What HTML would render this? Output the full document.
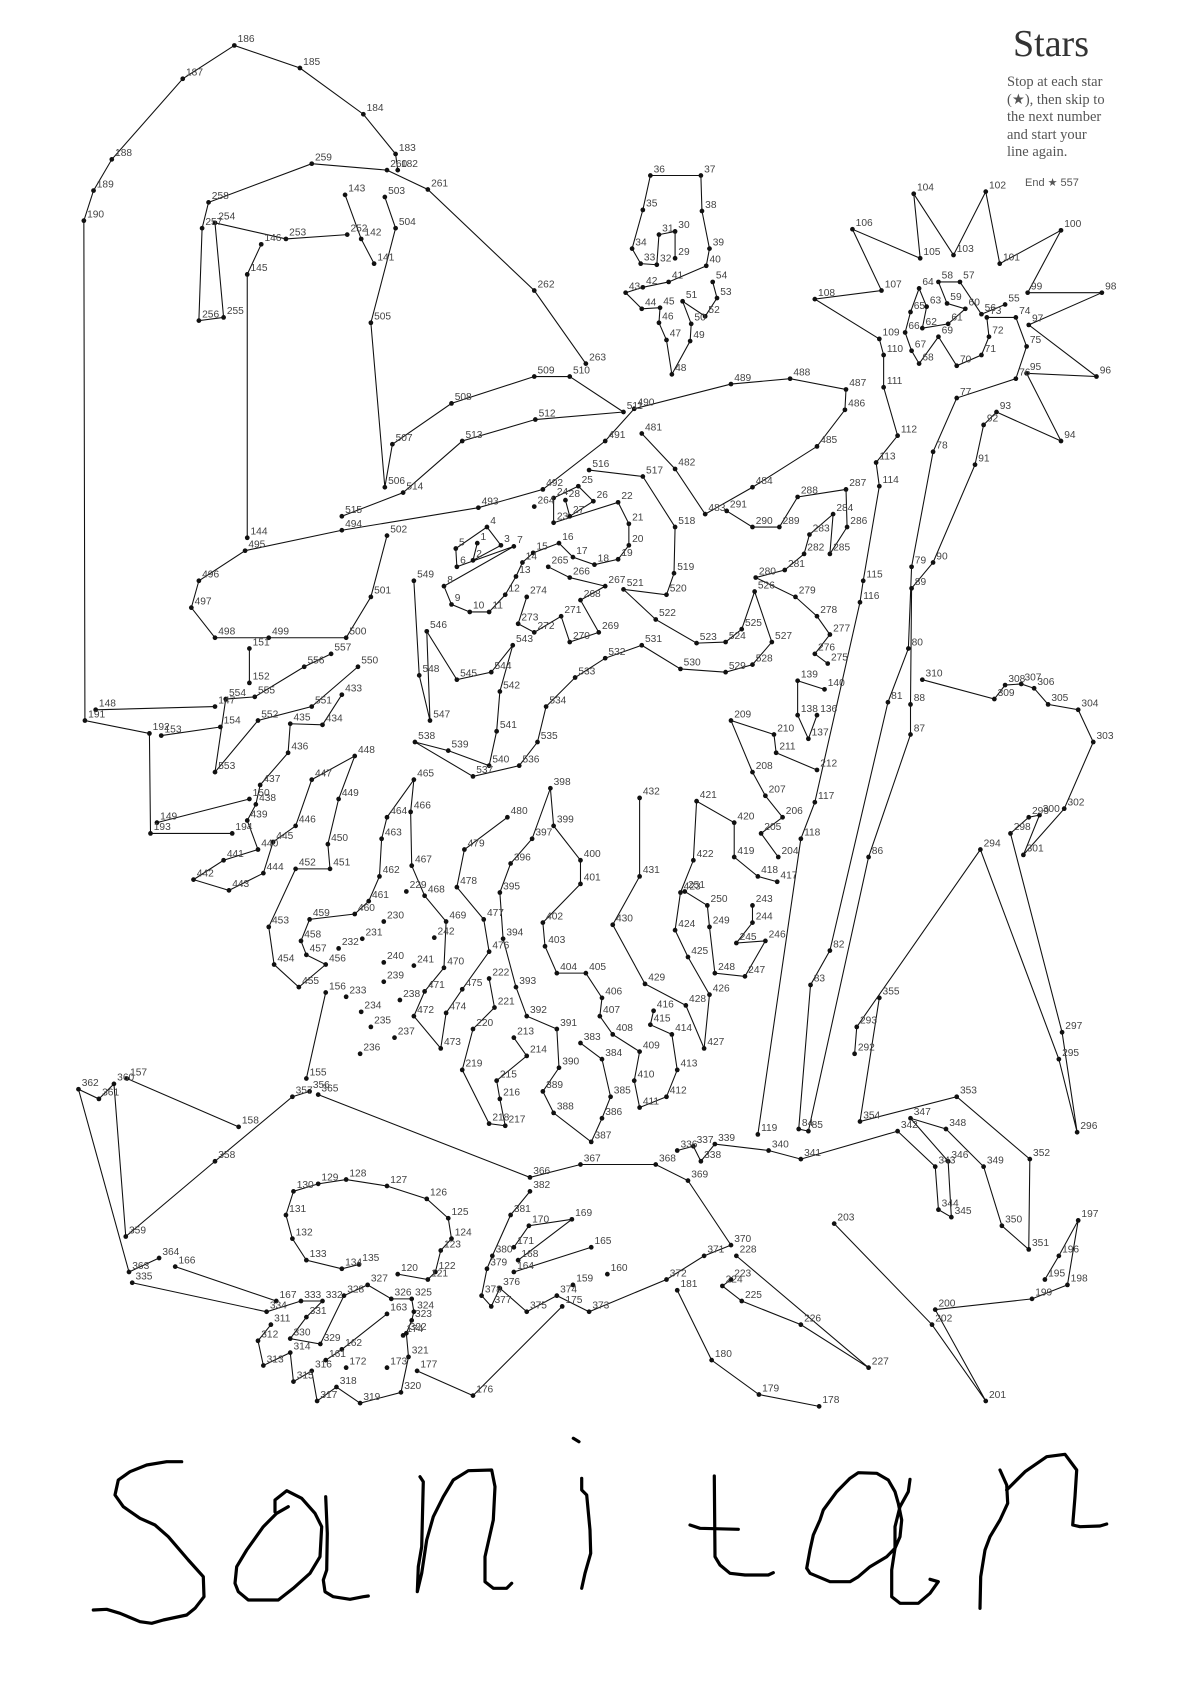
<!DOCTYPE html>
<html><head><meta charset="utf-8"><style>
html,body{margin:0;padding:0;background:#fff;width:1190px;height:1684px;overflow:hidden}
#d{position:absolute;left:0;top:0}
#h{position:absolute;left:0;top:0}
.t{font-family:"Liberation Serif",serif;position:absolute;color:#333}
text{font-family:"Liberation Sans",sans-serif;font-size:9.5px;fill:#444}
</style></head><body>
<svg id="d" width="1190" height="1684" viewBox="0 0 1107 1566"><g id="L" fill="none" stroke="#111" stroke-width="1"></g><g id="P" fill="#111"></g><g id="T"></g></svg>
<div class="t" style="left:1013px;top:22px;font-size:38px;">Stars</div>
<div class="t" style="left:1007px;top:74px;font-size:14.5px;line-height:17.5px;color:#555">Stop at each star<br>(★), then skip to<br>the next number<br>and start your<br>line again.</div>
<div style="position:absolute;left:1025px;top:176px;font-family:'Liberation Sans',sans-serif;font-size:11px;color:#555">End ★ 557</div>
<svg id="h" width="1190" height="1684" fill="none" stroke="#000" stroke-width="3.2" stroke-linejoin="round" stroke-linecap="round">
<polyline points="181.7,1461.7 166.7,1461.7 146.7,1465 130,1471.7 118.3,1480 115,1495 123.3,1506.7 140,1518.3 155,1525 168.3,1536.7 188.3,1560 203.3,1576.7 204,1596.7 195,1608.3 186.7,1615 163.3,1620 151.7,1623.3 140,1621.7 120,1613.3 106.7,1609.3 93.3,1610"/>
<polyline points="288.3,1506.7 276.7,1513.3 263.3,1526.7 246.7,1550 236.7,1566.7 235,1583.3 238.3,1591.7 248.3,1600 278.3,1600 293.3,1588.3 310,1573.3 320,1556.7 321.7,1526.7 315,1513.3 301.7,1498.3 286.7,1490.7 275,1500 275,1511.7"/>
<polyline points="325.7,1496.7 327.3,1533.3 326.7,1570 323.3,1580 325,1591.7 333.3,1596.7 350,1599.3 363.3,1596.7 368.3,1596"/>
<polyline points="420,1476.7 423.3,1481.7 421.7,1546.7 418.3,1566.7 417.3,1591.7 421.7,1573.3 426.7,1540 433.3,1516.7 443.3,1496.7 453.3,1480 468.3,1470.7 491.7,1470 495,1486.7 493.3,1520 485,1556.7 485,1581.7 493.3,1588.3 506.7,1588.3 511.7,1583.3"/>
<polyline points="581.7,1478.3 581.7,1490 586.7,1495 590,1530 590.7,1553.3 585,1573.3 581.7,1588.3"/>
<polyline points="573.3,1438.3 579,1441.7"/>
<polyline points="714.3,1476 715,1556.7 720,1565 730,1573.3 745,1575 768.3,1575 773.3,1572.7"/>
<polyline points="690,1525 700,1528.3 738.3,1529.3"/>
<polyline points="910,1479.3 908.3,1491.7 900,1506.7 895,1526.7 895,1548.3 886.7,1556.7 870,1566.7 858.3,1576.7 850,1581.7 830,1581.7 810,1573.3 806.7,1568.3 810,1550 813.3,1535 820,1520 823.3,1510 836.7,1491.7 850,1478.3 858.3,1472.7 876.7,1473.3 888.3,1480 895,1491.7 898.3,1503.3 901.7,1520 900,1536.7 895,1548.3 891.7,1570 891.7,1596.7 900,1603.3 918.3,1603.3 930,1593.3 938.3,1581.7 930,1579.3"/>
<polyline points="1000,1470 1006.7,1485 1007.7,1503.3 1000,1520 990,1536.7 985,1550 980.7,1576.7 980,1608.3"/>
<polyline points="1006.7,1490 1025,1471.7 1046.7,1456.7 1065,1454.3 1076.7,1470 1075,1496.7 1072.7,1525 1080,1526.7 1100,1526 1106.7,1524"/>
</svg>
<script>
var S=[
"182,370,158 183,368,143 184,338,106 185,279,63 186,218,42 187,170,73 188,104,148 189,87,177 190,78,205 191,79,670 192,139,682 193,140,775 194,216,775",
"147,200,657 148,89,660","149,146,765 150,232,743","151,232,603 152,232,635","153,150,684 154,205,676",
"252,323,218 253,266,222 254,200,207 255,208,295 256,185,298 257,188,212 258,194,188 259,290,152 260,360,158 261,398,176 262,497,270 263,545,338",
"141,348,245 142,336,222 143,321,181","144,230,500 145,230,255 146,243,227",
"481,597,403 482,628,436 483,656,478 484,700,453 485,760,415 486,786,381 487,787,362 488,735,352 489,680,357 490,590,380 491,563,410 492,505,455 493,445,472 494,318,493 495,228,512 496,185,540 497,178,565 498,200,593 499,250,593 500,322,593 501,345,555 502,360,498",
"503,358,183 504,368,212 505,345,300 506,358,453 507,365,413 508,420,375 509,497,350 510,530,350 511,580,383 512,498,390 513,430,410 514,375,458 515,318,480",
"516,548,437 517,598,443 518,628,490 519,627,533 520,620,553 521,580,548 522,610,576 523,648,598 524,675,597 525,690,585 526,702,550 527,718,597 528,700,618 529,675,625 530,633,622 531,597,600 532,563,612 533,535,630 534,508,657 535,500,690 536,483,712 537,440,722 538,386,690 539,417,698 540,455,712 541,462,680 542,465,643 543,477,600 544,457,625 545,425,632 546,397,587 547,400,670 548,390,628 549,385,540",
"550,333,620 551,290,657 552,240,670 553,200,718 554,210,650 555,237,648 556,283,620 557,308,608",
"1,444,505 2,440,521 3,466,507 4,453,490 5,424,510 6,425,527 7,478,508 8,413,545 9,420,562 10,437,569 11,455,569 12,470,553 13,480,536 14,486,523 15,496,514 16,520,505 17,533,518 18,553,525 19,575,520 20,585,507 21,585,487 22,575,467 23,515,486 24,515,463 25,538,452 26,552,466 27,530,480 28,526,465",
"29,628,240 30,628,215 31,613,218 32,611,246 33,596,245 34,588,231 35,598,195 36,605,163 37,652,163 38,653,196 39,660,231 40,657,247 41,622,262 42,598,267 43,582,272 44,597,287 45,614,286 46,613,300 47,620,316 48,625,348 49,642,317 50,643,301 51,635,280 52,656,294 53,667,277 54,663,262",
"55,935,283 56,913,292 57,893,262 58,873,262 59,881,282 60,898,287 61,882,301 62,858,305 63,862,285 64,855,268 65,847,290 66,842,309 67,848,326 68,855,338 69,873,313 70,890,340 71,913,330 72,920,313 73,918,295 74,945,295 75,955,322 76,945,352 77,890,370 78,868,420 79,848,527 80,845,603 81,826,653 82,772,884 83,754,916 84,743,1050 85,752,1052 86,808,797 87,847,683 88,847,655 89,848,547 90,868,523 91,907,432 92,915,395 93,927,383 94,987,410 95,955,347 96,1020,350 97,957,302 98,1025,272 99,956,272 100,987,214 101,930,245 102,917,178 103,887,237 104,850,180 105,856,240 106,793,213 107,820,270 108,758,278 109,818,315 110,822,330 111,822,360 112,835,405 113,815,430 114,818,452 115,803,540 116,800,560 117,758,746 118,745,780 119,705,1055",
"120,370,1185 121,398,1190 122,405,1183 123,410,1163 124,420,1152 125,417,1133 126,397,1115 127,360,1103 128,322,1097 129,296,1101 130,273,1108 131,266,1130 132,272,1152 133,285,1172 134,318,1180 135,334,1176",
"136,760,665 137,752,687 138,742,665 139,742,633 140,767,641",
"155,285,1003 156,303,923","157,118,1003 158,222,1048",
"161,303,1265 162,318,1255 163,360,1222","164,478,1183 165,550,1160","166,163,1178 167,257,1210",
"168,482,1172 169,532,1134 170,492,1140 171,478,1160","175,523,1215 176,440,1298 177,388,1275",
"178,762,1308 179,706,1297 180,662,1265 181,630,1200",
"195,972,1190 196,985,1168 197,1003,1135 198,993,1195 199,960,1208 200,870,1218 201,917,1303 202,867,1232 203,776,1138",
"204,724,797 205,708,775 206,728,760 207,712,740 208,700,718 209,680,670 210,720,683 211,722,700 212,760,716",
"213,478,965 214,490,982 215,462,1005 216,465,1022 217,470,1047 218,455,1045 219,430,995 220,440,957 221,460,937 222,455,910",
"223,680,1190 224,672,1196 225,690,1210 226,745,1232 227,808,1272 228,685,1168",
"243,700,842 244,700,858 245,685,877 246,712,875 247,693,908 248,665,905 249,660,862 250,658,842 251,637,829",
"265,510,527 266,530,537 267,563,545 268,540,558 269,557,588 270,530,597 271,522,573 272,497,588 273,482,580 274,490,555",
"275,770,617 276,758,608 277,772,590 278,760,573 279,740,555 280,703,537 281,730,530 282,748,515 283,753,497 284,775,478 285,772,515 286,788,490 287,787,455 288,742,462 289,725,490 290,700,490 291,676,475",
"292,795,980 293,797,955 294,912,790 295,985,985 296,1002,1053 297,988,960 298,940,775 299,957,760 300,967,758 301,952,795 302,990,752 303,1017,690 304,1003,660 305,975,655 306,962,640 307,950,636 308,935,637 309,925,650 310,858,632",
"311,252,1232 312,240,1247 313,245,1270 314,270,1258 315,273,1285 316,290,1275 317,295,1303 318,313,1290 319,335,1305 320,373,1295 321,380,1262 322,378,1240 323,383,1228 324,385,1220 325,383,1208 326,364,1208 327,342,1195 328,320,1205 329,298,1250 330,270,1245 331,285,1225 332,300,1210 333,280,1210 334,248,1220 335,123,1193",
"336,630,1070 337,645,1066 338,652,1080 339,665,1064 340,715,1070 341,745,1078 342,835,1052 343,870,1085 344,873,1125 345,885,1132 346,882,1080 347,847,1040 348,880,1050 349,915,1085 350,932,1140 351,957,1162 352,958,1078 353,890,1020 354,800,1043 355,818,928",
"356,288,1015 357,272,1020 358,200,1080 359,117,1150 360,106,1008 361,92,1022 362,73,1013 363,120,1183 364,148,1170",
"365,296,1018 366,493,1095 367,540,1083 368,610,1083 369,640,1098 370,680,1158 371,655,1168 372,620,1190 373,548,1220 374,518,1205 375,490,1220 376,465,1198 377,457,1215 378,448,1205 379,453,1180 380,458,1168 381,475,1130 382,493,1108",
"383,540,970 384,560,985 385,568,1020 386,560,1040 387,550,1062 388,515,1035 389,505,1015 390,520,993 391,518,957 392,490,945 393,480,918 394,468,873 395,465,830 396,475,803 397,495,780 398,512,733 399,515,768 400,540,800 401,540,822 402,505,858 403,507,880 404,518,905 405,545,905 406,560,928 407,558,945 408,570,962 409,595,978 410,590,1005 411,595,1030 412,620,1020 413,630,995 414,625,962 415,605,953 416,608,940",
"417,723,820 418,705,815 419,683,797 420,683,765 421,648,745 422,645,800 423,633,830 424,628,865 425,640,890 426,660,925 427,655,975 428,638,935 429,600,915 430,570,860 431,595,815 432,595,742",
"433,318,646 434,300,674 435,270,673 436,268,700 437,242,730 438,238,748 439,230,763 440,240,790 441,208,800 442,180,818 443,213,828 444,245,812 445,254,783 446,275,768 447,290,725 448,330,703 449,315,743 450,305,785 451,307,808 452,275,808 453,250,862 454,255,897 455,278,918 456,303,897 457,285,888 458,280,875 459,288,855 460,330,850 461,343,838 462,353,815 463,355,780 464,360,760 465,385,725 466,382,755 467,383,805 468,395,833 469,415,857 470,413,900 471,395,922 472,385,945 473,410,975 474,415,942 475,430,920 476,455,885 477,450,855 478,425,825 479,432,790 480,472,760"
];
var D="159,533,1195 160,565,1185 172,322,1272 173,360,1272 174,375,1242 229,378,829 230,357,857 231,337,873 232,315,882 233,322,927 234,336,941 235,345,955 236,335,980 237,367,965 238,372,930 239,357,913 240,357,895 241,385,898 242,404,872 264,497,471";
var ns="http://www.w3.org/2000/svg",L=document.getElementById("L"),P=document.getElementById("P"),T=document.getElementById("T");
function pt(n,x,y){var c=document.createElementNS(ns,"circle");c.setAttribute("cx",x);c.setAttribute("cy",y);c.setAttribute("r",2.2);P.appendChild(c);
var t=document.createElementNS(ns,"text");t.setAttribute("x",x+3);t.setAttribute("y",y-3);t.textContent=n;T.appendChild(t);}
S.forEach(function(s){var a=s.split(" "),p=[];a.forEach(function(q){var v=q.split(",").map(Number);p.push(v[1]+","+v[2]);pt(v[0],v[1],v[2]);});
var l=document.createElementNS(ns,"polyline");l.setAttribute("points",p.join(" "));L.appendChild(l);});
D.split(" ").forEach(function(q){var v=q.split(",").map(Number);pt(v[0],v[1],v[2]);});
</script>
</body></html>
